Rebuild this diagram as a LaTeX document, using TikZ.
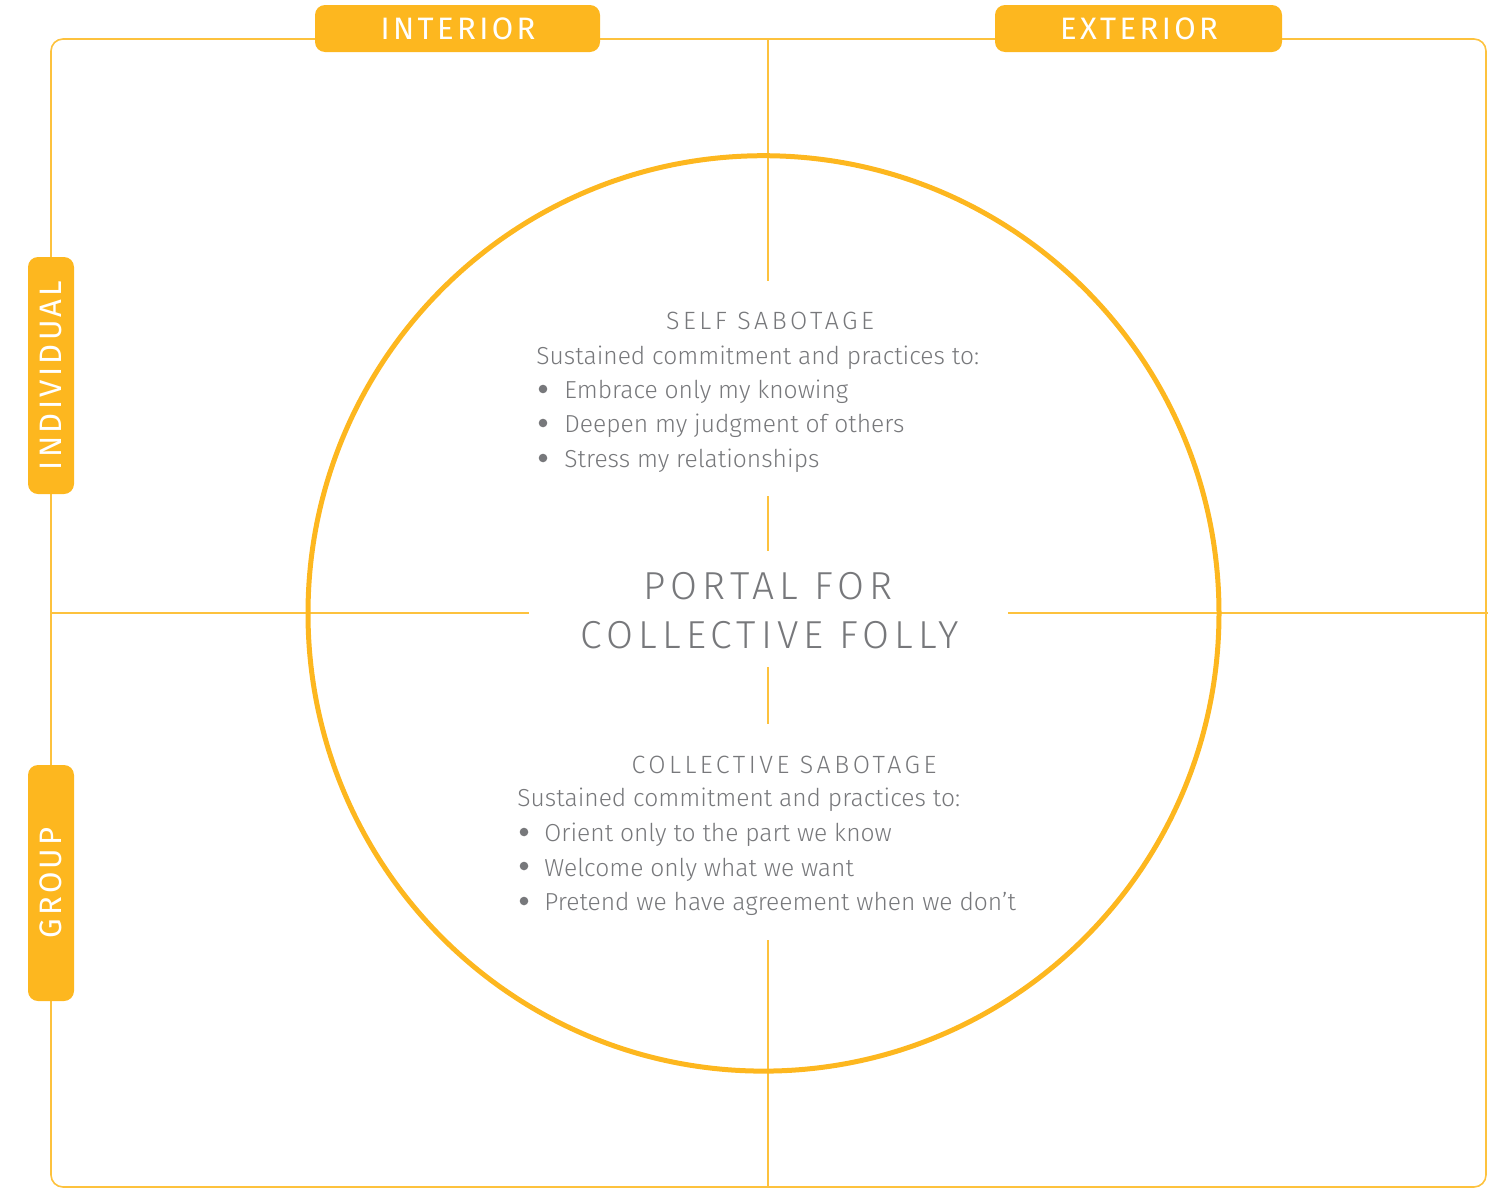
\documentclass[tikz,border=0pt]{standalone}
\usepackage{fontspec}
\setmainfont{Fira Sans Light}
\newfontfamily\tabfont{Fira Sans}
\definecolor{tabor}{HTML}{FDB71F}
\definecolor{lineor}{HTML}{FDC23E}
\definecolor{txtgray}{HTML}{77787B}
\begin{document}
\begin{tikzpicture}[x=0.5pt,y=-0.5pt,
  thinline/.style={draw=lineor,line width=0.55pt},
  tabbox/.style={fill=tabor,rounded corners=5pt},
  tablabel/.style={text=white,font=\tabfont\fontsize{15.5}{18}\selectfont\addfontfeature{LetterSpace=11}},
  headlabel/.style={text=txtgray,font=\fontsize{12.5}{14}\selectfont\addfontfeature{LetterSpace=14},anchor=base},
  bodytext/.style={text=txtgray,font=\fontsize{12.3}{14}\selectfont,anchor=base west,inner sep=0pt},
  bulletdot/.style={fill=txtgray,circle,inner sep=0pt,minimum size=4.3pt},
  portal/.style={text=txtgray,font=\fontsize{19.5}{22}\selectfont\addfontfeature{LetterSpace=13},anchor=base}]
\useasboundingbox (0,0) rectangle (1504,1189);
% outer frame
\draw[draw=lineor,line width=0.8pt,rounded corners=6pt] (51,39) rectangle (1486,1187);
% cross lines
\coordinate (vt) at (768,39);
\coordinate (v1) at (768,281);
\coordinate (v2) at (768,496);
\coordinate (v3) at (768,551);
\coordinate (v4) at (768,667);
\coordinate (v5) at (768,724);
\coordinate (v6) at (768,940);
\coordinate (vb) at (768,1187);
\coordinate (hl) at (51,613);
\coordinate (h1) at (529,613);
\coordinate (h2) at (1008,613);
\coordinate (hr) at (1488,613);
\draw[thinline] (vt) -- (v1) (v2) -- (v3) (v4) -- (v5) (v6) -- (vb);
\draw[thinline] (hl) -- (h1) (h2) -- (hr);
% circle
\draw[draw=tabor,line width=2.5pt] (763.5,613.4) ellipse [x radius=455.5, y radius=457.7];
% tabs
\fill[tabbox] (315,5) rectangle (600,52);
\fill[tabbox] (995,5) rectangle (1282,52);
\fill[tabbox] (28,257) rectangle (74,494);
\fill[tabbox] (28,765) rectangle (74,1001);
\node[tablabel] (interior) at (458,29) {INTERIOR};
\node[tablabel] (exterior) at (1139,29) {EXTERIOR};
\node[tablabel,rotate=90] (individual) at (51,375.5) {INDIVIDUAL};
\node[tablabel,rotate=90] (group) at (51,883) {GROUP};
% self sabotage
\node[headlabel] (selfh) at (770,329) {SELF SABOTAGE};
\node[bodytext] (selfs) at (536,364) {Sustained commitment and practices to:};
\node[bulletdot] (sb1) at (543,389) {};
\node[bodytext] (s1) at (564,398) {Embrace only my knowing};
\node[bulletdot] (sb2) at (543,423) {};
\node[bodytext] (s2) at (564,432) {Deepen my judgment of others};
\node[bulletdot] (sb3) at (543,458) {};
\node[bodytext] (s3) at (564,467) {Stress my relationships};
% portal
\node[portal] (p1) at (768,599) {PORTAL FOR};
\node[portal] (p2) at (770,648) {COLLECTIVE FOLLY};
% collective sabotage
\node[headlabel] (colh) at (784,773) {COLLECTIVE SABOTAGE};
\node[bodytext] (cols) at (517,806) {Sustained commitment and practices to:};
\node[bulletdot] (cb1) at (524,832) {};
\node[bodytext] (c1) at (544,841) {Orient only to the part we know};
\node[bulletdot] (cb2) at (524,866) {};
\node[bodytext] (c2) at (544,876) {Welcome only what we want};
\node[bulletdot] (cb3) at (524,901) {};
\node[bodytext] (c3) at (544,910) {Pretend we have agreement when we don’t};
\end{tikzpicture}
\end{document}
